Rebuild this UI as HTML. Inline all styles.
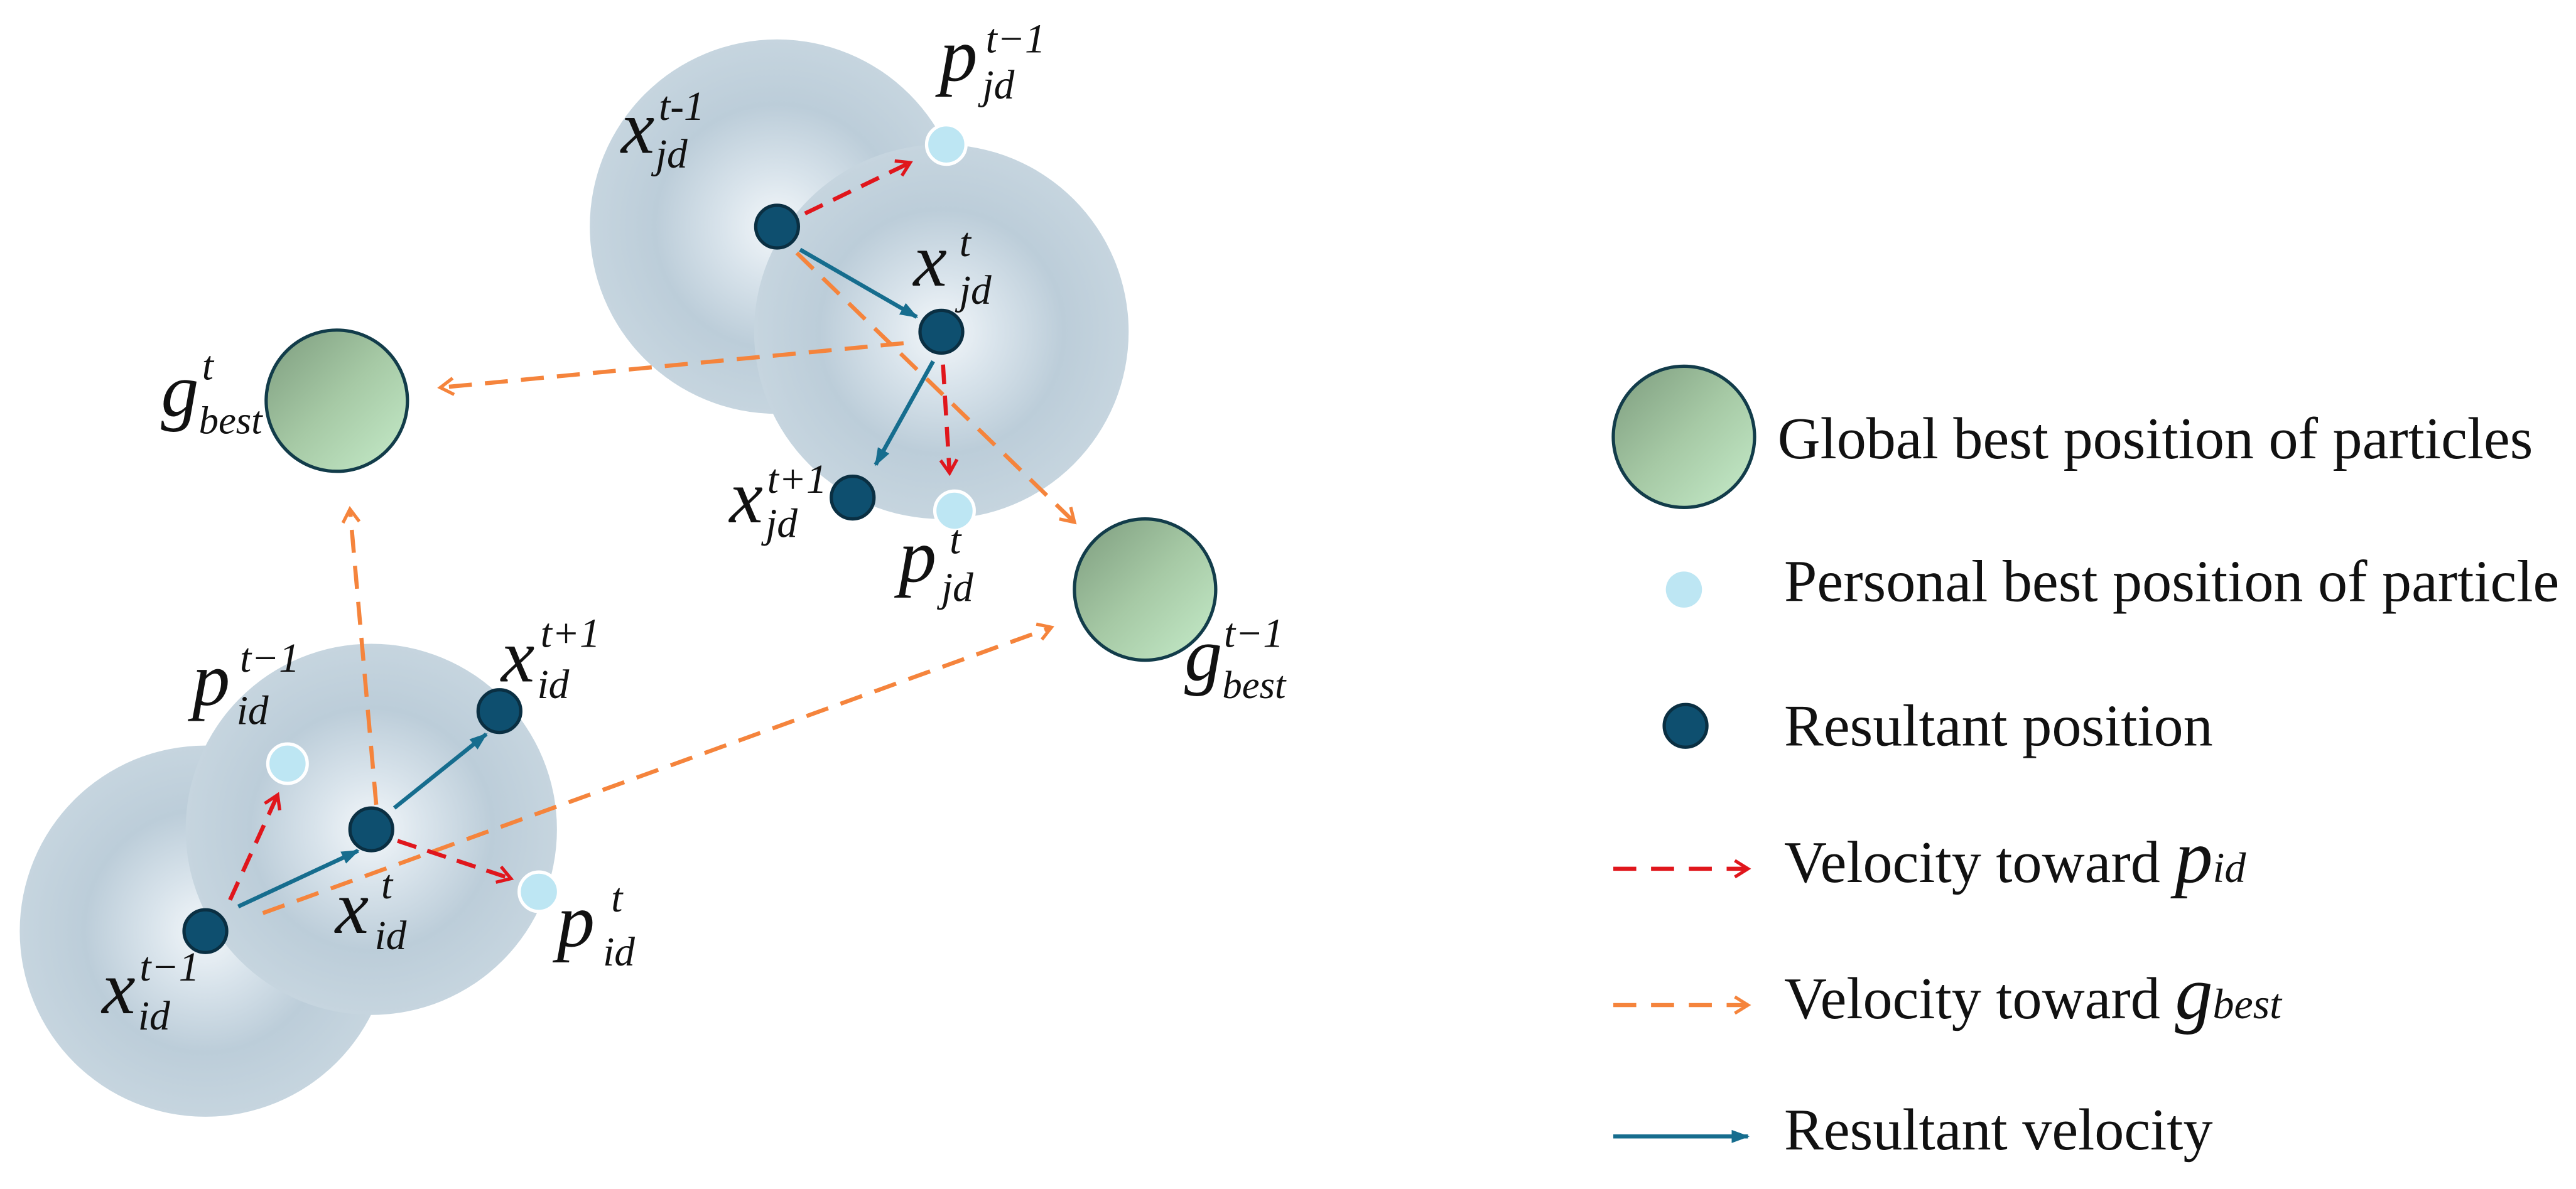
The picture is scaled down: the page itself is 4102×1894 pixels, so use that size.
<!DOCTYPE html>
<html><head><meta charset="utf-8"><style>html,body{margin:0;padding:0;background:#fff}svg{display:block}</style></head>
<body>
<svg width="4102" height="1894" viewBox="0 0 1568 724" xmlns="http://www.w3.org/2000/svg" font-family="Liberation Serif, serif">
<defs>
<radialGradient id="halo" cx="0.5" cy="0.5" r="0.5">
<stop offset="0" stop-color="#f3f7fa"/><stop offset="0.3" stop-color="#d8e3eb"/><stop offset="0.65" stop-color="#bccdd9"/><stop offset="1" stop-color="#c6d5df"/>
</radialGradient>
<linearGradient id="gb" x1="0" y1="0" x2="1" y2="1">
<stop offset="0" stop-color="#7d9c7e"/><stop offset="0.5" stop-color="#a6c9a5"/><stop offset="1" stop-color="#c6ecca"/>
</linearGradient>
<marker id="ar" markerWidth="12" markerHeight="12" refX="9" refY="6" orient="auto" markerUnits="userSpaceOnUse"><path d="M1,1 L9,6 L1,11" fill="none" stroke="#e0161c" stroke-width="2"/></marker>
<marker id="ao" markerWidth="12" markerHeight="12" refX="9" refY="6" orient="auto" markerUnits="userSpaceOnUse"><path d="M1,1 L9,6 L1,11" fill="none" stroke="#f5843c" stroke-width="2"/></marker>
<marker id="at" markerWidth="12" markerHeight="10" refX="10" refY="5" orient="auto" markerUnits="userSpaceOnUse"><path d="M0,1 L11,5 L0,9 Z" fill="#166d8e"/></marker>
</defs>
<!-- halos -->
<circle cx="125" cy="567" r="113" fill="url(#halo)"/>
<circle cx="226" cy="505" r="113" fill="url(#halo)"/>
<circle cx="473" cy="138" r="114" fill="url(#halo)"/>
<circle cx="573" cy="202" r="114" fill="url(#halo)"/>
<!-- gbest -->
<circle cx="205" cy="244" r="43" fill="url(#gb)" stroke="#123c4a" stroke-width="2"/>
<circle cx="697" cy="359" r="43" fill="url(#gb)" stroke="#123c4a" stroke-width="2"/>
<!-- arrows orange -->
<g stroke="#f5843c" stroke-width="2.5" fill="none" stroke-dasharray="14,8">
<line x1="229" y1="490" x2="213" y2="310" marker-end="url(#ao)"/>
<line x1="550" y1="209" x2="268" y2="236" marker-end="url(#ao)"/>
<line x1="485" y1="154" x2="654" y2="318" marker-end="url(#ao)"/>
<line x1="160" y1="556" x2="640" y2="382" marker-end="url(#ao)"/>
</g>
<!-- red -->
<g stroke="#e0161c" stroke-width="2.5" fill="none" stroke-dasharray="12,7">
<line x1="140" y1="548" x2="169" y2="484" marker-end="url(#ar)"/>
<line x1="242" y1="512" x2="311" y2="535" marker-end="url(#ar)"/>
<line x1="490" y1="130" x2="554" y2="99" marker-end="url(#ar)"/>
<line x1="574" y1="222" x2="578" y2="288" marker-end="url(#ar)"/>
</g>
<!-- teal -->
<g stroke="#166d8e" stroke-width="2.5" fill="none">
<line x1="145" y1="552" x2="218" y2="518" marker-end="url(#at)"/>
<line x1="240" y1="492" x2="296" y2="447" marker-end="url(#at)"/>
<line x1="487" y1="152" x2="558" y2="193" marker-end="url(#at)"/>
<line x1="568" y1="220" x2="533" y2="283" marker-end="url(#at)"/>
</g>
<!-- particles -->
<g fill="#0e4f6f" stroke="#0a2f42" stroke-width="2">
<circle cx="125" cy="567" r="13"/><circle cx="226" cy="505" r="13"/><circle cx="304" cy="433" r="13"/>
<circle cx="473" cy="138" r="13"/><circle cx="573" cy="202" r="13"/><circle cx="519" cy="303" r="13"/>
</g>
<g fill="#bde6f3" stroke="#ffffff" stroke-width="2">
<circle cx="175" cy="465" r="12"/><circle cx="328" cy="543" r="12"/><circle cx="576" cy="88" r="12"/><circle cx="581" cy="311" r="12"/>
</g>
<!-- labels -->
<g font-style="italic" fill="#111">
<g font-size="46">
<text x="378" y="93">x</text>
<text x="572" y="49">p</text>
<text x="556" y="174">x</text>
<text x="98" y="253">g</text>
<text x="444" y="318">x</text>
<text x="547" y="354">p</text>
<text x="721" y="414">g</text>
<text x="117" y="429">p</text>
<text x="305" y="415">x</text>
<text x="204" y="568">x</text>
<text x="339" y="576">p</text>
<text x="62" y="617">x</text>
</g>
<g font-size="25">
<text x="401" y="73">t-1</text><text x="399" y="102">jd</text>
<text x="600" y="32">t−1</text><text x="598" y="60">jd</text>
<text x="584" y="156">t</text><text x="584" y="185">jd</text>
<text x="123" y="231">t</text><text x="121" y="264" font-size="24">best</text>
<text x="467" y="300">t+1</text><text x="466" y="327">jd</text>
<text x="578" y="337">t</text><text x="573" y="366">jd</text>
<text x="745" y="394">t−1</text><text x="744" y="425" font-size="24">best</text>
<text x="146" y="409">t−1</text><text x="144" y="441">id</text>
<text x="329" y="394">t+1</text><text x="327" y="425">id</text>
<text x="232" y="547">t</text><text x="228" y="578">id</text>
<text x="372" y="555">t</text><text x="367" y="588">id</text>
<text x="85" y="597">t−1</text><text x="84" y="627">id</text>
</g></g>
<!-- legend -->
<circle cx="1025" cy="266" r="43" fill="url(#gb)" stroke="#123c4a" stroke-width="2"/>
<circle cx="1025" cy="359" r="11" fill="#bde6f3"/>
<circle cx="1026" cy="442" r="13" fill="#0e4f6f" stroke="#0a2f42" stroke-width="2"/>
<line x1="982" y1="529" x2="1064" y2="529" stroke="#e0161c" stroke-width="2.5" stroke-dasharray="14,9" marker-end="url(#ar)"/>
<line x1="982" y1="612" x2="1064" y2="612" stroke="#f5843c" stroke-width="2.5" stroke-dasharray="14,9" marker-end="url(#ao)"/>
<line x1="982" y1="692" x2="1064" y2="692" stroke="#166d8e" stroke-width="2.5" marker-end="url(#at)"/>
<g font-size="36" fill="#111">
<text x="1082" y="279">Global best position of particles</text>
<text x="1086" y="366">Personal best position of particle</text>
<text x="1086" y="454">Resultant position</text>
<text x="1086" y="537">Velocity toward <tspan font-style="italic" font-size="46">p</tspan><tspan font-style="italic" font-size="26">id</tspan></text>
<text x="1086" y="620">Velocity toward <tspan font-style="italic" font-size="46">g</tspan><tspan font-style="italic" font-size="26">best</tspan></text>
<text x="1086" y="700">Resultant velocity</text>
</g>
</svg>
</body></html>
